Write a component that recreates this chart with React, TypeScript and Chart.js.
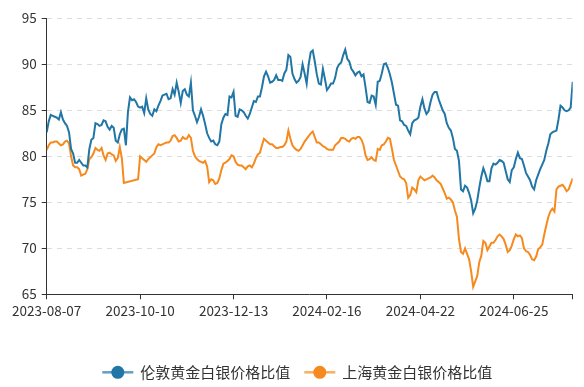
import React, { useEffect, useRef } from 'react';
import { Chart, registerables } from 'chart.js';

Chart.register(...registerables);

const seriesNames = ['伦敦黄金白银价格比值', '上海黄金白银价格比值'];
const tickPositions = [0, 46, 92, 138, 184, 230, 259];
const tickLabels = ['2023-08-07', '2023-10-10', '2023-12-13', '2024-02-16', '2024-04-22', '2024-06-25', ''];
const yMin = 65;
const yMax = 95;
const yStep = 5;

const londonRatio = [
  82.6, 83.8, 84.5, 84.4, 84.3, 84.2, 84.0, 84.8, 84.0, 83.6,
  83.3, 82.6, 80.8, 80.3, 79.3, 79.3, 79.6, 79.3, 79.0, 79.0,
  78.8, 80.8, 81.8, 82.0, 83.6, 83.5, 83.3, 83.4, 83.9, 83.8,
  83.2, 82.9, 83.3, 83.1, 81.7, 81.5, 82.4, 82.9, 83.0, 81.2,
  84.8, 86.4, 86.1, 86.2, 85.9, 85.4, 85.3, 85.4, 84.7, 86.3,
  85.1, 84.6, 84.4, 85.1, 84.9, 85.5, 86.0, 86.6, 86.7, 86.8,
  86.2, 86.3, 87.3, 86.7, 88.0, 87.0, 85.8, 87.1, 87.3, 86.7,
  86.5, 88.0, 85.0, 84.4, 83.7, 84.3, 85.1, 84.4, 83.5, 82.5,
  82.0, 81.6, 81.7, 81.3, 81.2, 81.6, 83.5, 84.2, 84.6, 84.5,
  86.5, 86.4, 87.0, 84.4, 84.3, 85.1, 85.0, 84.8, 84.4, 84.1,
  84.6, 85.3, 86.0, 85.9, 86.5, 86.5, 87.5, 88.7, 89.2, 88.7,
  88.0, 88.1, 88.3, 88.8, 88.3, 88.3, 88.2, 89.0, 89.4, 91.0,
  90.8, 89.0, 88.4, 88.0, 88.2, 88.6, 90.0, 89.0, 87.9, 90.0,
  91.3, 91.5, 90.3, 88.9, 87.9, 87.8, 89.5, 88.4, 87.2, 87.5,
  87.9, 87.9, 88.5, 89.6, 90.0, 90.2, 91.0, 91.6, 90.6, 90.3,
  89.5, 89.2, 88.8, 89.1, 89.2, 88.7, 88.9, 87.5, 85.9, 85.8,
  86.6, 86.5, 85.6, 88.1, 88.2, 89.0, 90.0, 90.1, 89.6, 88.9,
  88.0, 86.8, 85.6, 85.5, 83.9, 83.8, 83.4, 83.3, 82.8, 82.4,
  83.6, 83.9, 84.0, 84.2, 85.4, 86.2, 85.2, 84.6, 84.9, 85.9,
  86.7, 87.0, 87.0, 86.2, 85.6, 85.0, 84.6, 83.6, 83.1, 82.8,
  82.0, 80.8, 80.6, 79.5, 76.4, 76.2, 76.8, 76.6, 76.0, 75.2,
  73.8, 74.3, 75.2, 76.6, 77.8, 78.7, 78.1, 77.3, 77.3, 78.7,
  79.2, 79.1, 79.3, 79.6, 79.5, 79.3, 78.4, 77.5, 77.2, 78.5,
  78.8, 79.7, 80.4, 79.8, 79.7, 79.0, 78.2, 77.8, 77.4, 76.7,
  76.4, 77.4, 78.0, 78.6, 79.1, 79.6, 80.6, 81.4, 82.4, 82.6,
  82.7, 82.8, 84.0, 85.5, 85.3, 85.0, 84.9, 85.0, 85.3, 88.1,
];

const shanghaiRatio = [
  80.7, 81.2, 81.5, 81.5, 81.6, 81.6, 81.4, 81.2, 81.3, 81.6,
  81.7, 81.4, 80.0, 79.0, 78.8, 78.8, 78.6, 77.9, 78.0, 78.1,
  78.6, 79.7, 79.9, 80.3, 80.9, 80.7, 80.6, 80.9, 80.1, 79.6,
  80.3, 80.4, 80.2, 80.1, 79.5, 79.8, 81.0, 79.8, 77.1, null,
  null, null, null, null, null, 77.5, 80.0, 79.8, 79.6, 79.4,
  79.7, 79.9, 80.1, 80.3, 81.0, 81.3, 81.2, 81.3, 81.4, 81.5,
  81.5, 81.7, 82.2, 82.3, 82.0, 81.6, 81.7, 82.1, 81.9, 81.9,
  82.3, 82.0, 80.6, 80.0, 79.7, 79.5, 79.4, 79.3, 79.5, 78.9,
  77.2, 77.5, 77.4, 77.0, 77.1, 77.6, 78.5, 79.2, 79.3, 79.5,
  79.7, 80.1, 80.0, 79.4, 79.1, 79.0, 79.0, 78.8, 78.6, 78.9,
  79.0, 78.8, 79.2, 79.8, 80.2, 80.4, 81.2, 81.9, 81.7, 81.5,
  81.3, 81.3, 81.1, 80.9, 80.9, 81.0, 81.0, 81.2, 81.6, 82.8,
  81.9, 81.2, 80.9, 80.7, 80.6, 80.8, 81.2, 81.6, 81.9, 82.2,
  82.5, 82.7, 82.1, 81.5, 81.5, 81.3, 81.1, 81.0, 80.8, 80.7,
  80.7, 80.7, 81.2, 81.4, 81.6, 82.0, 82.0, 81.9, 81.7, 81.6,
  81.9, 82.0, 81.9, 82.1, 82.1, 81.8, 81.2, 80.1, 79.6, 79.7,
  79.9, 79.6, 79.5, 80.8, 80.7, 81.2, 81.3, 81.6, 82.0, 81.9,
  80.8, 79.6, 79.0, 78.4, 77.8, 77.6, 77.5, 77.1, 75.5, 75.8,
  76.6, 76.4, 76.1, 77.4, 77.8, 77.6, 77.4, 77.5, 77.6, 77.7,
  77.9, 77.7, 77.4, 77.2, 77.0, 76.5, 76.0, 75.4, 75.5, 75.3,
  75.0, 74.1, 73.4, 71.0, 69.6, 69.4, 70.0, 69.4, 68.8, 67.5,
  65.8, 66.4, 67.0, 68.5, 69.2, 70.8, 70.6, 69.8, 70.2, 70.6,
  70.6, 70.9, 71.3, 71.5, 71.3, 71.0, 70.4, 69.6, 69.8, 70.3,
  71.0, 71.5, 71.3, 71.4, 71.1, 70.0, 69.7, 69.6, 69.3, 68.8,
  68.7, 69.1, 69.9, 70.1, 70.4, 71.5, 72.5, 73.4, 74.0, 74.3,
  74.0, 76.4, 76.7, 76.8, 76.9, 76.6, 76.2, 76.4, 77.0, 77.6,
];

const seriesColors = ['#2176a5', '#f68a1e'];
const tickFont = { family: '"Noto Sans CJK SC", "Noto Sans", sans-serif', size: 13.5 };

const legendPlugin = {
  id: 'customLegend',
  afterDraw(chart: any) {
    const ctx = chart.ctx;
    ctx.save();
    ctx.font = '15px "Noto Sans CJK SC", sans-serif';
    const lineW = 31;
    const gapIconText = 7;
    const gapItems = 14;
    const sets = chart.data.datasets;
    const widths = sets.map((ds: any) => ctx.measureText(ds.label).width);
    const total = widths.reduce((a: number, w: number) => a + lineW + gapIconText + w, 0) + gapItems * (widths.length - 1);
    let x = 297.3 - total / 2;
    const y = 372.3;
    sets.forEach((ds: any, i: number) => {
      ctx.globalAlpha = 0.7;
      ctx.strokeStyle = ds.borderColor;
      ctx.lineWidth = 2.5;
      ctx.beginPath();
      ctx.moveTo(x, y);
      ctx.lineTo(x + lineW, y);
      ctx.stroke();
      ctx.globalAlpha = 1;
      ctx.fillStyle = ds.borderColor;
      ctx.beginPath();
      ctx.arc(x + lineW / 2, y, 6.5, 0, Math.PI * 2);
      ctx.fill();
      ctx.fillStyle = '#333';
      ctx.textBaseline = 'middle';
      ctx.textAlign = 'left';
      ctx.fillText(ds.label, x + lineW + gapIconText, y);
      x += lineW + gapIconText + widths[i] + gapItems;
    });
    ctx.restore();
  },
};

export default function App() {
  const canvasRef = useRef<HTMLCanvasElement | null>(null);

  useEffect(() => {
    const canvas = canvasRef.current;
    if (!canvas) return;
    const toPoints = (arr: (number | null)[]) => arr.map((v, i) => ({ x: i, y: v }));
    const chart = new Chart(canvas, {
      type: 'line',
      data: {
        datasets: [
          {
            label: seriesNames[0],
            data: toPoints(londonRatio) as any,
            borderColor: seriesColors[0],
            backgroundColor: seriesColors[0],
            borderWidth: 2,
            pointRadius: 0,
            tension: 0,
          },
          {
            label: seriesNames[1],
            data: toPoints(shanghaiRatio) as any,
            borderColor: seriesColors[1],
            backgroundColor: seriesColors[1],
            borderWidth: 2,
            pointRadius: 0,
            tension: 0,
            spanGaps: true,
          },
        ],
      },
      options: {
        animation: false,
        responsive: false,
        devicePixelRatio: 1,
        layout: { padding: { top: 18.3, right: 11.3, bottom: 62.7, left: 0 } },
        plugins: { legend: { display: false }, tooltip: { enabled: false } },
        scales: {
          x: {
            type: 'linear',
            min: 0,
            max: londonRatio.length - 1,
            afterBuildTicks: (s: any) => {
              s.ticks = tickPositions.map((v) => ({ value: v }));
            },
            afterFit: (s: any) => {
              s.height = 30;
            },
            ticks: {
              autoSkip: false,
              maxRotation: 0,
              padding: 3,
              color: '#333',
              font: tickFont,
              callback: (v: any) => {
                const k = tickPositions.indexOf(Number(v));
                return k >= 0 ? tickLabels[k] : '';
              },
            },
            grid: { drawOnChartArea: false, drawTicks: true, tickLength: 5, tickColor: '#333', tickWidth: 1 },
            border: { color: '#333', width: 1 },
          },
          y: {
            min: yMin,
            max: yMax,
            afterFit: (s: any) => {
              s.width = 46.7;
            },
            ticks: { stepSize: yStep, padding: 5, color: '#333', font: tickFont },
            grid: {
              color: (c: any) => (c.tick && c.tick.value === yMin ? 'rgba(0,0,0,0)' : '#dcdcdc'),
              tickLength: 5,
              tickColor: '#333',
              tickWidth: 1,
            },
            border: { color: '#333', width: 1, dash: [5, 5] },
          },
        },
      },
      plugins: [legendPlugin],
    });
    return () => chart.destroy();
  }, []);

  return (
    <div style={{ position: 'fixed', left: 0, top: 0, width: 584, height: 387, background: '#fff' }}>
      <canvas ref={canvasRef} width={584} height={387} style={{ width: 584, height: 387, display: 'block' }} />
    </div>
  );
}
